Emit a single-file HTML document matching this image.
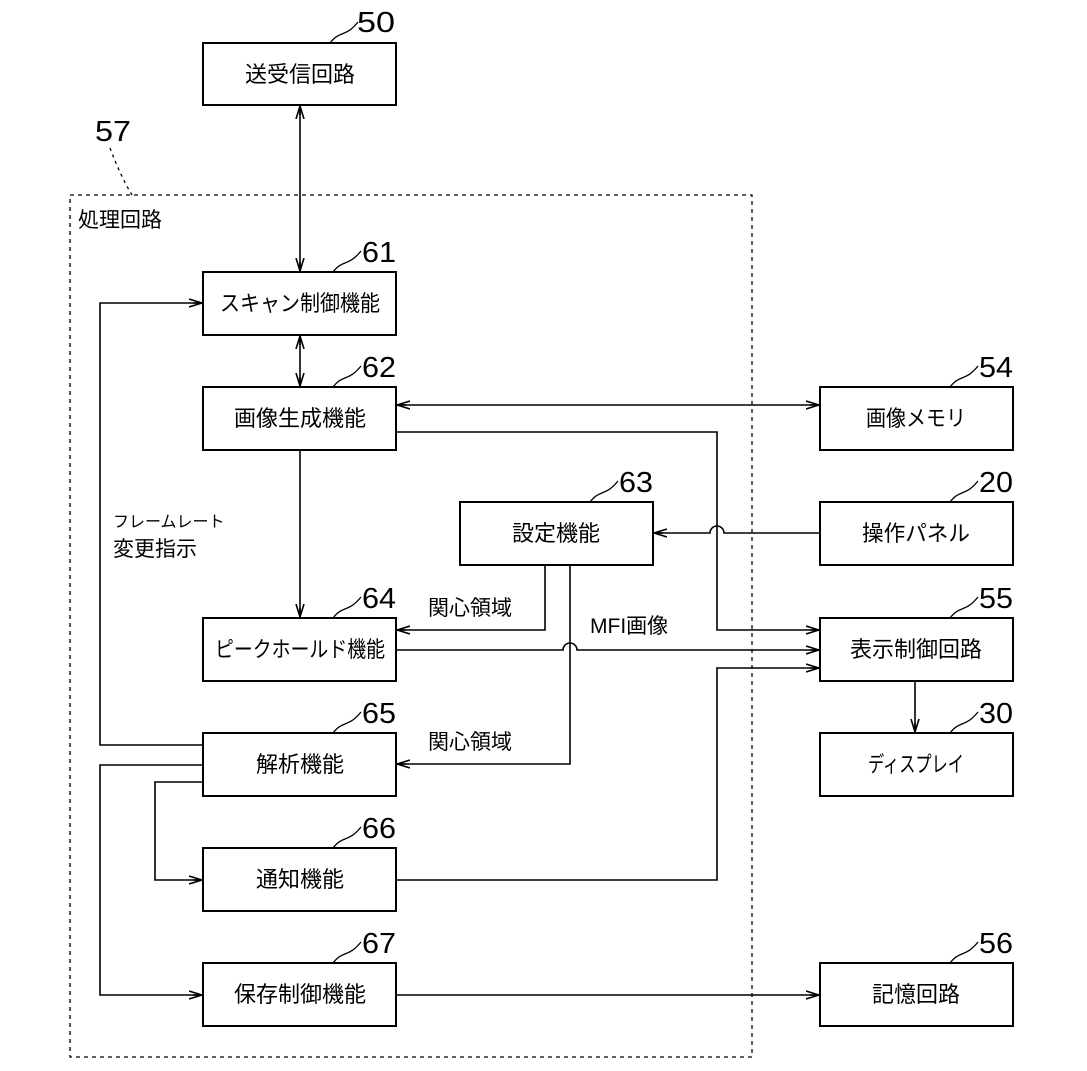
<!DOCTYPE html>
<html><head><meta charset="utf-8"><style>
body{margin:0;background:#fff}
svg{display:block}
text{font-family:"Liberation Sans","Noto Sans CJK JP",sans-serif;fill:#000}
.b{font-size:22px;text-anchor:middle}
.n{font-size:29px}
.l{font-size:21px}
</style></head><body>
<svg width="1087" height="1071" viewBox="0 0 1087 1071" xmlns="http://www.w3.org/2000/svg">
<defs>
<marker id="a" markerWidth="14" markerHeight="10" refX="13" refY="5" orient="auto-start-reverse" markerUnits="userSpaceOnUse">
<path d="M0,1 L13,5 L0,9 M4,5 L13,5" fill="none" stroke="#000" stroke-width="1.6"/>
</marker>
</defs>
<g fill="none" stroke="#000" stroke-width="2">
<rect x="70" y="195" width="682" height="862" stroke-dasharray="4,4" stroke-width="1.3"/>
<path d="M110,148 Q120,175 132,195" stroke-dasharray="3,4" stroke-width="1.3"/>
<rect x="203" y="43" width="193" height="62"/>
<rect x="203" y="272" width="193" height="63"/>
<rect x="203" y="387" width="193" height="63"/>
<rect x="460" y="502" width="193" height="63"/>
<rect x="203" y="618" width="193" height="63"/>
<rect x="203" y="733" width="193" height="63"/>
<rect x="203" y="848" width="193" height="63"/>
<rect x="203" y="963" width="193" height="63"/>
<rect x="820" y="387" width="193" height="63"/>
<rect x="820" y="502" width="193" height="63"/>
<rect x="820" y="618" width="193" height="63"/>
<rect x="820" y="733" width="193" height="63"/>
<rect x="820" y="963" width="193" height="63"/>
</g>
<g fill="none" stroke="#000" stroke-width="1.3">
<path d="M330,43 C340,30 345,38 358,22"/>
<path d="M333,272 C343,259 348,267 361,251"/>
<path d="M333,387 C343,374 348,382 361,366"/>
<path d="M590,502 C600,489 605,497 618,481"/>
<path d="M333,618 C343,605 348,613 361,597"/>
<path d="M333,733 C343,720 348,728 361,712"/>
<path d="M333,848 C343,835 348,843 361,827"/>
<path d="M333,963 C343,950 348,958 361,942"/>
<path d="M950,387 C960,374 965,382 978,366"/>
<path d="M950,502 C960,489 965,497 978,481"/>
<path d="M950,618 C960,605 965,613 978,597"/>
<path d="M950,733 C960,720 965,728 978,712"/>
<path d="M950,963 C960,950 965,958 978,942"/>
</g>
<g fill="none" stroke="#000" stroke-width="1.6">
<path d="M300,106 V271" marker-start="url(#a)" marker-end="url(#a)"/>
<path d="M300,336 V386" marker-start="url(#a)" marker-end="url(#a)"/>
<path d="M397,405 H819" marker-start="url(#a)" marker-end="url(#a)"/>
<path d="M396,432 H717 V630 H819" marker-end="url(#a)"/>
<path d="M300,450 V617" marker-end="url(#a)"/>
<path d="M820,533 H724 A7,7 0 0 0 710,533 H654" marker-end="url(#a)"/>
<path d="M545,565 V630 H397" marker-end="url(#a)"/>
<path d="M570,565 V764 H397" marker-end="url(#a)"/>
<path d="M396,650 H563 A7,7 0 0 1 577,650 H819" marker-end="url(#a)"/>
<path d="M396,880 H717 V668 H819" marker-end="url(#a)"/>
<path d="M915,681 V732" marker-end="url(#a)"/>
<path d="M203,745 H100 V303 H202" marker-end="url(#a)"/>
<path d="M203,782 H155 V880 H202" marker-end="url(#a)"/>
<path d="M203,765 H100 V995 H202" marker-end="url(#a)"/>
<path d="M396,995 H819" marker-end="url(#a)"/>
</g>
<text class="b" x="300" y="82">送受信回路</text>
<text class="b" x="300" y="311" textLength="160" lengthAdjust="spacingAndGlyphs">スキャン制御機能</text>
<text class="b" x="300" y="426">画像生成機能</text>
<text class="b" x="556" y="541">設定機能</text>
<text class="b" x="300" y="657" textLength="170" lengthAdjust="spacingAndGlyphs">ピークホールド機能</text>
<text class="b" x="300" y="772">解析機能</text>
<text class="b" x="300" y="887">通知機能</text>
<text class="b" x="300" y="1002">保存制御機能</text>
<text class="b" x="916" y="426" textLength="100" lengthAdjust="spacingAndGlyphs">画像メモリ</text>
<text class="b" x="916" y="541" textLength="108" lengthAdjust="spacingAndGlyphs">操作パネル</text>
<text class="b" x="916" y="657">表示制御回路</text>
<text class="b" x="916" y="772" textLength="96" lengthAdjust="spacingAndGlyphs">ディスプレイ</text>
<text class="b" x="916" y="1002">記憶回路</text>
<text class="l" x="78" y="227">処理回路</text>
<text x="113" y="527" style="font-size:16px">フレームレート</text>
<text class="l" x="113" y="556">変更指示</text>
<text class="l" x="428" y="615">関心領域</text>
<text class="l" x="428" y="749">関心領域</text>
<text class="l" x="590" y="633">MFI画像</text>
<text class="n" x="357" y="32" textLength="38" lengthAdjust="spacingAndGlyphs">50</text>
<text class="n" x="95" y="141" textLength="36" lengthAdjust="spacingAndGlyphs">57</text>
<text class="n" x="362" y="262" textLength="34" lengthAdjust="spacingAndGlyphs">61</text>
<text class="n" x="362" y="377" textLength="34" lengthAdjust="spacingAndGlyphs">62</text>
<text class="n" x="619" y="492" textLength="34" lengthAdjust="spacingAndGlyphs">63</text>
<text class="n" x="362" y="608" textLength="34" lengthAdjust="spacingAndGlyphs">64</text>
<text class="n" x="362" y="723" textLength="34" lengthAdjust="spacingAndGlyphs">65</text>
<text class="n" x="362" y="838" textLength="34" lengthAdjust="spacingAndGlyphs">66</text>
<text class="n" x="362" y="953" textLength="34" lengthAdjust="spacingAndGlyphs">67</text>
<text class="n" x="979" y="377" textLength="34" lengthAdjust="spacingAndGlyphs">54</text>
<text class="n" x="979" y="492" textLength="34" lengthAdjust="spacingAndGlyphs">20</text>
<text class="n" x="979" y="608" textLength="34" lengthAdjust="spacingAndGlyphs">55</text>
<text class="n" x="979" y="723" textLength="34" lengthAdjust="spacingAndGlyphs">30</text>
<text class="n" x="979" y="953" textLength="34" lengthAdjust="spacingAndGlyphs">56</text>
</svg>
</body></html>
